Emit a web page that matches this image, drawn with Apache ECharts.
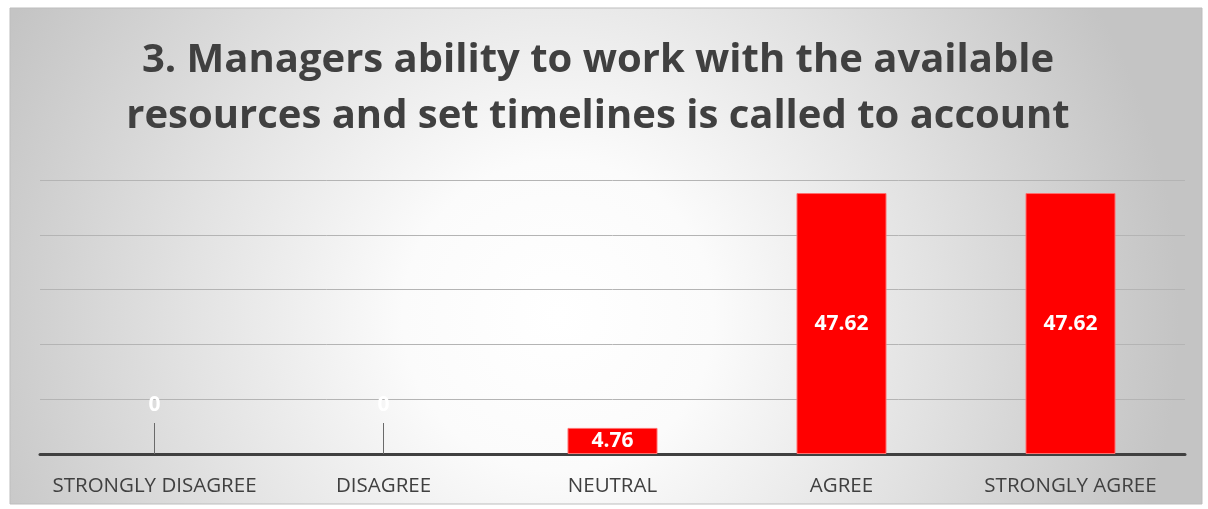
<!DOCTYPE html>
<html>
<head>
<meta charset="utf-8">
<script src="https://cdn.jsdelivr.net/npm/echarts@6/dist/echarts.min.js"></script>
<style>
  html, body { margin: 0; padding: 0; background: #fff; }
  #chart { width: 1208px; height: 509px; }
</style>
</head>
<body>
<div id="chart"></div>
<script>
const titleText = '3. Managers ability to work with the available\nresources and set timelines is called to account'
const categories = ['STRONGLY DISAGREE', 'DISAGREE', 'NEUTRAL', 'AGREE', 'STRONGLY AGREE']
const values = [0, 0, 4.76, 47.62, 47.62]
const yMin = 0
const yMax = 50
const yStep = 10

const font = '"Open Sans", "Liberation Sans", sans-serif'

const chart = echarts.init(document.getElementById('chart'), null, { renderer: 'canvas' })

const option = {
  animation: false,
  graphic: [
    {
      type: 'rect',
      z: -10,
      shape: { x: 10, y: 8, width: 1192, height: 496 },
      style: {
        fill: new echarts.graphic.RadialGradient(0.46, 0.62, 1.25, [
          { offset: 0, color: '#ffffff' },
          { offset: 0.25, color: '#fbfbfb' },
          { offset: 0.6, color: '#e2e2e2' },
          { offset: 1, color: '#c4c4c4' }
        ]),
        stroke: '#bdbdbd',
        lineWidth: 1
      }
    }
  ],
  title: {
    text: titleText,
    left: 593,
    top: 28,
    textAlign: 'center',
    textStyle: {
      fontFamily: font,
      fontWeight: 'bold',
      fontSize: 40,
      lineHeight: 56,
      color: '#404040'
    }
  },
  grid: {
    left: 40,
    right: 23,
    top: 180,
    bottom: 55,
    containLabel: false
  },
  xAxis: {
    type: 'category',
    data: categories,
    axisLine: { lineStyle: { color: '#404040', width: 3 } },
    axisTick: {
      show: true,
      inside: true,
      length: 31,
      alignWithLabel: true,
      interval: function (index) { return values[index] === 0 },
      lineStyle: { color: '#6a6a6a', width: 1 }
    },
    axisLabel: {
      interval: 0,
      fontFamily: font,
      fontSize: 20.5,
      color: '#404040',
      margin: 22
    }
  },
  yAxis: {
    type: 'value',
    min: yMin,
    max: yMax,
    interval: yStep,
    axisLabel: { show: false },
    axisLine: { show: false },
    axisTick: { show: false },
    splitLine: { lineStyle: { color: '#b4b4b4', width: 1 } }
  },
  series: [
    {
      type: 'bar',
      barWidth: 90,
      data: values.map(function (v) {
        return {
          value: v,
          itemStyle: v === 0 ? { borderWidth: 0, color: 'transparent' } : {},
          label: v === 0
            ? { position: 'insideBottom', distance: 38 }
            : { position: 'inside' }
        }
      }),
      itemStyle: { color: '#ff0000', borderColor: '#ff7070', borderWidth: 1 },
      label: {
        show: true,
        color: '#ffffff',
        fontFamily: font,
        fontWeight: 'bold',
        fontSize: 21
      }
    }
  ]
}

chart.setOption(option)
</script>
</body>
</html>
